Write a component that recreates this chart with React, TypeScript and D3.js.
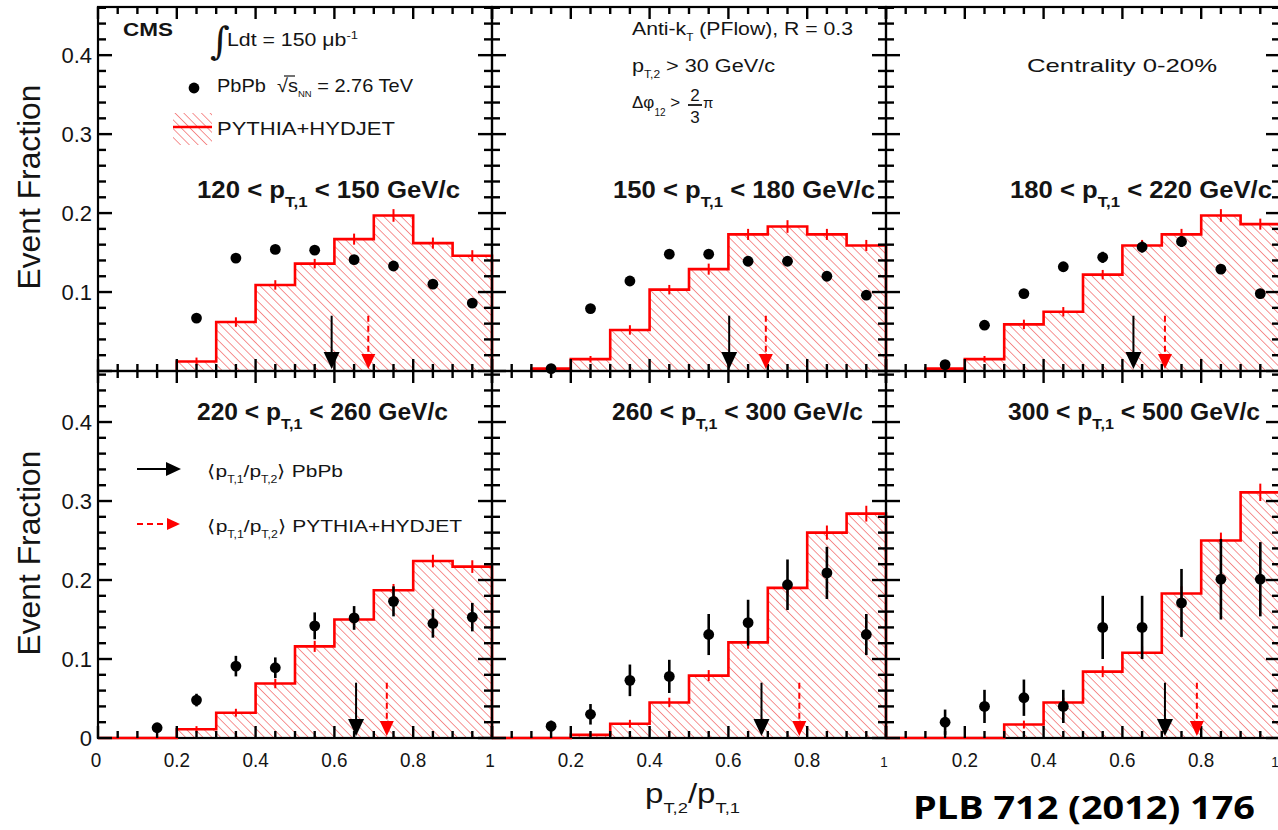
import React from 'react';
import * as d3 from 'd3';

// ---------------- data ----------------
const binLow = [0.0, 0.1, 0.2, 0.3, 0.4, 0.5, 0.6, 0.7, 0.8, 0.9];
const binHigh = [0.1, 0.2, 0.3, 0.4, 0.5, 0.6, 0.7, 0.8, 0.9, 1.0];
const binCenter = [0.05, 0.15, 0.25, 0.35, 0.45, 0.55, 0.65, 0.75, 0.85, 0.95];

const ptRanges = [
  [120, 150],
  [150, 180],
  [180, 220],
  [220, 260],
  [260, 300],
  [300, 500],
];

// PYTHIA+HYDJET histograms (null = bin not drawn)
const histTL = [null, null, 0.012, 0.062, 0.109, 0.136, 0.167, 0.197, 0.162, 0.146];
const histTM = [null, 0.003, 0.015, 0.052, 0.103, 0.129, 0.173, 0.183, 0.173, 0.159];
const histTR = [null, 0.003, 0.015, 0.059, 0.075, 0.122, 0.159, 0.173, 0.197, 0.186];
const histBL = [0, 0, 0.011, 0.032, 0.069, 0.116, 0.150, 0.187, 0.224, 0.217];
const histBM = [0, 0, 0.004, 0.018, 0.045, 0.079, 0.121, 0.190, 0.260, 0.284];
const histBR = [0, 0, 0, 0.017, 0.045, 0.084, 0.108, 0.183, 0.250, 0.311];

const histErrTL = [0, 0, 0.005, 0.006, 0.006, 0.006, 0.007, 0.008, 0.007, 0.007];
const histErrTM = [0, 0.002, 0.004, 0.006, 0.006, 0.007, 0.007, 0.008, 0.007, 0.007];
const histErrTR = [0, 0.002, 0.004, 0.006, 0.006, 0.006, 0.007, 0.007, 0.008, 0.007];
const histErrBL = [0, 0, 0.004, 0.005, 0.006, 0.007, 0.007, 0.008, 0.008, 0.008];
const histErrBM = [0, 0, 0.003, 0.005, 0.006, 0.007, 0.008, 0.009, 0.009, 0.010];
const histErrBR = [0, 0, 0, 0.005, 0.006, 0.007, 0.008, 0.009, 0.010, 0.011];

// PbPb data points
const dataTL = [null, null, 0.067, 0.143, 0.154, 0.153, 0.141, 0.133, 0.110, 0.086];
const dataTM = [null, 0.003, 0.079, 0.114, 0.148, 0.148, 0.139, 0.139, 0.120, 0.096];
const dataTR = [null, 0.008, 0.058, 0.098, 0.132, 0.144, 0.157, 0.164, 0.129, 0.098];
const dataBL = [null, 0.013, 0.048, 0.091, 0.089, 0.142, 0.152, 0.173, 0.145, 0.153];
const dataBM = [null, 0.015, 0.030, 0.073, 0.078, 0.131, 0.146, 0.194, 0.209, 0.131];
const dataBR = [null, 0.020, 0.040, 0.051, 0.040, 0.140, 0.140, 0.171, 0.201, 0.201];

const errTL = [null, null, 0.003, 0.004, 0.004, 0.004, 0.004, 0.004, 0.004, 0.004];
const errTM = [null, 0.002, 0.003, 0.004, 0.004, 0.004, 0.004, 0.004, 0.004, 0.004];
const errTR = [null, 0.003, 0.004, 0.005, 0.006, 0.007, 0.007, 0.007, 0.006, 0.006];
const errBL = [null, 0.005, 0.008, 0.013, 0.013, 0.017, 0.015, 0.019, 0.018, 0.018];
const errBM = [null, 0.007, 0.013, 0.020, 0.021, 0.026, 0.029, 0.032, 0.033, 0.026];
const errBR = [null, 0.016, 0.021, 0.023, 0.021, 0.040, 0.040, 0.043, 0.051, 0.047];

// <pT2/pT1> means (arrows)
const meanPbPb = [0.593, 0.602, 0.628, 0.655, 0.684, 0.708];
const meanPythia = [0.686, 0.695, 0.708, 0.733, 0.780, 0.789];
const arrowTop = 0.07;

const yTickValues = [0, 0.1, 0.2, 0.3, 0.4];
const yTickLabels = ['0', '0.1', '0.2', '0.3', '0.4'];
const xTickValues = [0, 0.2, 0.4, 0.6, 0.8, 1];
const xTickLabels = ['0', '0.2', '0.4', '0.6', '0.8', '1'];

const hists = [histTL, histTM, histTR, histBL, histBM, histBR];
const histErrs = [histErrTL, histErrTM, histErrTR, histErrBL, histErrBM, histErrBR];
const datas = [dataTL, dataTM, dataTR, dataBL, dataBM, dataBR];
const errs = [errTL, errTM, errTR, errBL, errBM, errBR];

// ---------------- layout ----------------
const W = 1278;
const H = 830;
const PANEL_LEFT = [98, 492, 886];
const PANEL_W = 394;
const ROW_TOP = [7, 371];
const ROW_BOTTOM = [371, 738];
const ROW_YMAX = [0.461, 0.4646];
const LABEL_X = [197, 613, 1010, 197, 612, 1008];
const LABEL_W = [263, 262, 262, 251, 251, 252];
const LABEL_BASE = [198, 420];
const FONT = '"Liberation Sans", Arial, Helvetica, sans-serif';
const RED = '#ff0000';
const INK = '#141414';

function Panel({ idx }: { idx: number }) {
  const row = Math.floor(idx / 3);
  const col = idx % 3;
  const x0 = PANEL_LEFT[col];
  const x = d3.scaleLinear().domain([0, 1]).range([x0, x0 + PANEL_W]);
  const y = d3.scaleLinear().domain([0, ROW_YMAX[row]]).range([ROW_BOTTOM[row], ROW_TOP[row]]);
  const hist = hists[idx];
  const herr = histErrs[idx];
  const data = datas[idx];
  const err = errs[idx];

  const drawn = binLow.map((_, i) => i).filter((i) => hist[i] !== null);
  const first = drawn[0];
  const last = drawn[drawn.length - 1];
  const pts: [number, number][] = [[x(binLow[first]), y(0)]];
  drawn.forEach((i) => {
    pts.push([x(binLow[i]), y(hist[i] as number)]);
    pts.push([x(binHigh[i]), y(hist[i] as number)]);
  });
  pts.push([x(binHigh[last]), y(0)]);
  const line = d3.line();
  const outline = line(pts) as string;
  const area = outline + 'Z';

  const yMinor = d3.range(0, ROW_YMAX[row] + 1e-9, 0.02);
  const yMajor = d3.range(0, ROW_YMAX[row] + 1e-9, 0.1);
  const xMinor = d3.range(0, 1.0001, 0.05);
  const xMajor = d3.range(0, 1.0001, 0.2);
  const top = ROW_TOP[row];
  const bot = ROW_BOTTOM[row];
  const right = x0 + PANEL_W;

  const pb = meanPbPb[idx];
  const py = meanPythia[idx];
  const tip = y(0) - 2;

  return (
    <g>
      <path d={area} fill="url(#hatch)" stroke="none" />
      <rect x={x0} y={top} width={PANEL_W} height={bot - top} fill="none" stroke="#000" strokeWidth={2.2} />
      <path d={outline} fill="none" stroke={RED} strokeWidth={2.6} />
      {drawn.map((i) =>
        herr[i] > 0 ? (
          <line key={'he' + i} x1={x(binCenter[i])} x2={x(binCenter[i])} y1={y((hist[i] as number) - herr[i])} y2={y((hist[i] as number) + herr[i])} stroke={RED} strokeWidth={2} />
        ) : null
      )}
      <g stroke="#000" strokeWidth={2.4}>
        {yMinor.map((v, i) => {
          const major = yMajor.some((m) => Math.abs(m - v) < 1e-6);
          const L = major ? 14 : 8;
          return (
            <g key={'yt' + i}>
              <line x1={x0} x2={x0 + L} y1={y(v)} y2={y(v)} />
              <line x1={right} x2={right - L} y1={y(v)} y2={y(v)} />
            </g>
          );
        })}
        {xMinor.map((v, i) => {
          const major = xMajor.some((m) => Math.abs(m - v) < 1e-6);
          const L = major ? 12 : 7;
          return (
            <g key={'xt' + i}>
              <line x1={x(v)} x2={x(v)} y1={bot} y2={bot - L} />
              <line x1={x(v)} x2={x(v)} y1={top} y2={top + L} />
            </g>
          );
        })}
      </g>
      {binCenter.map((c, i) =>
        data[i] === null ? null : (
          <g key={'d' + i}>
            <line x1={x(c)} x2={x(c)} y1={y((data[i] as number) - (err[i] as number))} y2={y((data[i] as number) + (err[i] as number))} stroke="#000" strokeWidth={2.6} />
            <circle cx={x(c)} cy={y(data[i] as number)} r={5.4} fill="#000" />
          </g>
        )
      )}
      <line x1={x(pb)} x2={x(pb)} y1={y(arrowTop)} y2={tip - 12} stroke="#000" strokeWidth={2} />
      <path d={`M${x(pb) - 8},${tip - 17}L${x(pb) + 8},${tip - 17}L${x(pb)},${tip}Z`} fill="#000" />
      <line x1={x(py)} x2={x(py)} y1={y(arrowTop)} y2={tip - 12} stroke={RED} strokeWidth={2} strokeDasharray="6,4" />
      <path d={`M${x(py) - 7},${tip - 15}L${x(py) + 7},${tip - 15}L${x(py)},${tip}Z`} fill={RED} />
      <text
        x={LABEL_X[idx]}
        y={LABEL_BASE[row]}
        fontFamily={FONT}
        fontWeight="bold"
        fontSize={23}
        fill={INK}
        textLength={LABEL_W[idx]}
        lengthAdjust="spacingAndGlyphs"
        style={{ whiteSpace: 'pre' }}
      >
        {`${ptRanges[idx][0]} < p`}
        <tspan dy={9} fontSize={15}>T,1</tspan>
        <tspan dy={-9}>{` < ${ptRanges[idx][1]} GeV/c`}</tspan>
      </text>
      {col === 0 &&
        yTickValues.map((v, i) =>
          row === 0 && v === 0 ? null : (
            <text key={'yl' + i} x={x0 - 6} y={y(v) + 8} textAnchor="end" fontFamily={FONT} fontSize={22} fill={INK}>
              {yTickLabels[i]}
            </text>
          )
        )}
      {row === 1 &&
        xTickValues.map((v, i) => {
          if (col > 0 && v === 0) return null;
          const lx = x(v) - (v === 0 ? 2 : 0) - (v === 1 ? (col === 2 ? 5 : 2) : 0);
          return (
            <text
              key={'xl' + i}
              x={lx}
              y={767}
              textAnchor="middle"
              fontFamily={FONT}
              fontSize={v === 1 ? (col === 0 ? 19 : 15) : 21}
              fill={INK}
              transform={`translate(${lx},0) scale(0.9,1) translate(${-lx},0)`}
            >
              {xTickLabels[i]}
            </text>
          );
        })}
    </g>
  );
}

export default function App() {
  return (
    <svg width={W} height={H} style={{ position: 'absolute', left: 0, top: 0, background: '#fff' }}>
      <defs>
        <pattern id="hatch" width={6.2} height={6.2} patternUnits="userSpaceOnUse" patternTransform="rotate(-45)">
          <line x1={0} y1={0} x2={0} y2={6.2} stroke="#f25a5a" strokeWidth={1.3} />
        </pattern>
      </defs>
      <rect x={0} y={0} width={W} height={H} fill="#fff" />
      {[0, 1, 2, 3, 4, 5].map((i) => (
        <Panel key={i} idx={i} />
      ))}

      {/* top-left legend */}
      <text x={123} y={36} fontFamily={FONT} fontWeight="bold" fontSize={18} fill={INK} textLength={50} lengthAdjust="spacingAndGlyphs">CMS</text>
      <text x={210} y={54} fontFamily='"DejaVu Serif", serif' fontSize={38} fill={INK}>∫</text>
      <text x={227} y={46} fontFamily={FONT} fontSize={18} fill={INK} textLength={131} lengthAdjust="spacingAndGlyphs" style={{ whiteSpace: 'pre' }}>
        {'Ldt = 150 μb'}
        <tspan dy={-7} fontSize={11}>-1</tspan>
      </text>
      <circle cx={194} cy={88} r={5.4} fill="#000" />
      <text x={217} y={92} fontFamily={FONT} fontSize={19} fill={INK} textLength={196} lengthAdjust="spacingAndGlyphs" style={{ whiteSpace: 'pre' }}>
        {'PbPb  √s'}
        <tspan dy={5} fontSize={9}>NN</tspan>
        <tspan dy={-5}>{' = 2.76 TeV'}</tspan>
      </text>
      <line x1={284} x2={295} y1={76} y2={76} stroke={INK} strokeWidth={1.2} />
      <rect x={173} y={113} width={39} height={32} fill="url(#hatch)" />
      <line x1={173} x2={212} y1={127} y2={127} stroke={RED} strokeWidth={2.6} />
      <text x={217} y={135} fontFamily={FONT} fontSize={19} fill={INK} textLength={178} lengthAdjust="spacingAndGlyphs">PYTHIA+HYDJET</text>

      {/* top-middle legend */}
      <text x={632} y={35} fontFamily={FONT} fontSize={18} fill={INK} textLength={221} lengthAdjust="spacingAndGlyphs" style={{ whiteSpace: 'pre' }}>
        {'Anti-k'}
        <tspan dy={6} fontSize={10}>T</tspan>
        <tspan dy={-6}>{' (PFlow), R = 0.3'}</tspan>
      </text>
      <text x={632} y={72} fontFamily={FONT} fontSize={18} fill={INK} textLength={143} lengthAdjust="spacingAndGlyphs" style={{ whiteSpace: 'pre' }}>
        {'p'}
        <tspan dy={6} fontSize={10}>T,2</tspan>
        <tspan dy={-6}>{' > 30 GeV/c'}</tspan>
      </text>
      <text x={632} y={108} fontFamily={FONT} fontSize={17} fill={INK} style={{ whiteSpace: 'pre' }}>
        {'Δφ'}
        <tspan dy={8} fontSize={10}>12</tspan>
        <tspan dy={-8}>{' >'}</tspan>
      </text>
      <text x={695} y={101} fontFamily={FONT} fontSize={17} fill={INK} textAnchor="middle">2</text>
      <line x1={688} x2={702} y1={105} y2={105} stroke={INK} strokeWidth={1.8} />
      <text x={695} y={123} fontFamily={FONT} fontSize={17} fill={INK} textAnchor="middle">3</text>
      <text x={703} y={108} fontFamily={FONT} fontSize={15} fill={INK}>π</text>

      {/* top-right */}
      <text x={1027} y={72} fontFamily={FONT} fontSize={19} fill={INK} textLength={190} lengthAdjust="spacingAndGlyphs">Centrality 0-20%</text>

      {/* bottom-left legend */}
      <line x1={137} x2={168} y1={469} y2={469} stroke="#000" strokeWidth={2} />
      <path d="M166,462L166,476L181,469Z" fill="#000" />
      <text x={207} y={477} fontFamily={FONT} fontSize={17} fill={INK} textLength={136} lengthAdjust="spacingAndGlyphs" style={{ whiteSpace: 'pre' }}>
        {'⟨p'}
        <tspan dy={6} fontSize={10}>T,1</tspan>
        <tspan dy={-6}>/p</tspan>
        <tspan dy={6} fontSize={10}>T,2</tspan>
        <tspan dy={-6}>{'⟩ PbPb'}</tspan>
      </text>
      <line x1={137} x2={168} y1={524} y2={524} stroke={RED} strokeWidth={2} strokeDasharray="6,4" />
      <path d="M167,518L167,530L180,524Z" fill={RED} />
      <text x={207} y={532} fontFamily={FONT} fontSize={17} fill={INK} textLength={255} lengthAdjust="spacingAndGlyphs" style={{ whiteSpace: 'pre' }}>
        {'⟨p'}
        <tspan dy={6} fontSize={10}>T,1</tspan>
        <tspan dy={-6}>/p</tspan>
        <tspan dy={6} fontSize={10}>T,2</tspan>
        <tspan dy={-6}>{'⟩ PYTHIA+HYDJET'}</tspan>
      </text>

      {/* axis titles */}
      {[187, 553].map((cy, i) => (
        <text
          key={'ytitle' + i}
          transform={`translate(40,${cy}) rotate(-90)`}
          textAnchor="middle"
          fontFamily={FONT}
          fontSize={31}
          fill={INK}
          textLength={205}
          lengthAdjust="spacingAndGlyphs"
        >
          Event Fraction
        </text>
      ))}
      <text x={645} y={803} fontFamily={FONT} fontSize={27} fill={INK} textLength={95} lengthAdjust="spacingAndGlyphs" style={{ whiteSpace: 'pre' }}>
        {'p'}
        <tspan dy={10} fontSize={15}>T,2</tspan>
        <tspan dy={-10}>/p</tspan>
        <tspan dy={10} fontSize={15}>T,1</tspan>
      </text>
      <text x={913} y={819} fontFamily='"Open Sans", "Liberation Sans", sans-serif' fontWeight="bold" fontSize={33} fill="#000" textLength={342} lengthAdjust="spacingAndGlyphs">
        PLB 712 (2012) 176
      </text>
    </svg>
  );
}
